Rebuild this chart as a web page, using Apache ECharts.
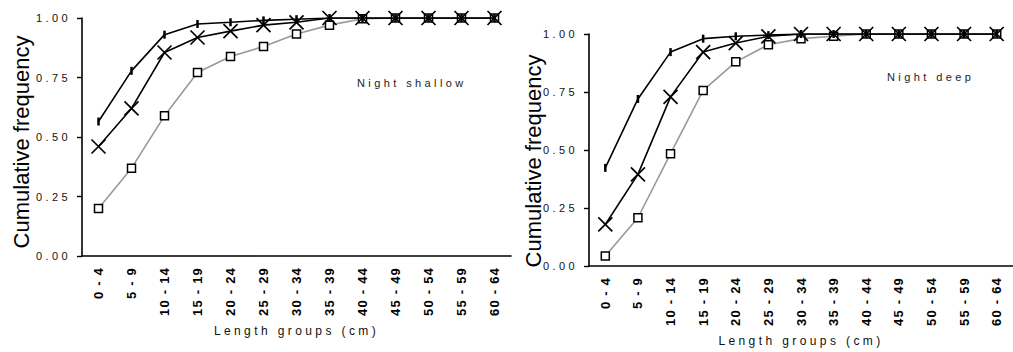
<!DOCTYPE html>
<html>
<head>
<meta charset="utf-8">
<script src="https://cdn.jsdelivr.net/npm/echarts@6/dist/echarts.min.js"></script>
<style>
  html, body { margin: 0; padding: 0; background: #fff; }
  #chart { width: 1013px; height: 352px; }
  /* the original figure uses widely spaced lettering */
  #chart text { letter-spacing: 3.4px; }
  #chart text[style*="bold"] { letter-spacing: 1.2px; }
  #chart text[style*="22px"] { letter-spacing: 0; }
</style>
</head>
<body>
<div id="chart"></div>
<script>
const categories = ["0 - 4", "5 - 9", "10 - 14", "15 - 19", "20 - 24", "25 - 29", "30 - 34",
  "35 - 39", "40 - 44", "45 - 49", "50 - 54", "55 - 59", "60 - 64"];

// Night shallow
const shallowTick = [0.565, 0.778, 0.93, 0.975, 0.982, 0.99, 0.995, 1, 1, 1, 1, 1, 1];
const shallowCross = [0.46, 0.62, 0.855, 0.918, 0.945, 0.97, 0.982, 1, 1, 1, 1, 1, 1];
const shallowSquare = [0.2, 0.369, 0.589, 0.771, 0.838, 0.88, 0.933, 0.97, 0.997, 1, 1, 1, 1];

// Night deep
const deepTick = [0.423, 0.72, 0.922, 0.98, 0.99, 0.995, 1, 1, 1, 1, 1, 1, 1];
const deepCross = [0.179, 0.395, 0.729, 0.922, 0.961, 0.99, 1, 1, 1, 1, 1, 1, 1];
const deepSquare = [0.043, 0.208, 0.484, 0.757, 0.88, 0.954, 0.98, 0.99, 1, 1, 1, 1, 1];

const yTicks = { min: 0, max: 1, interval: 0.25 };

const FONT = "'Liberation Sans', Arial, sans-serif";
const crossPath = "path://M0,0L10,10M10,0L0,10";

const makeX = (gridIndex) => ({
  type: "category",
  gridIndex,
  data: categories,
  name: "Length groups (cm)",
  nameLocation: "middle",
  nameGap: 69,
  nameMoveOverlap: false,
  nameTextStyle: { fontFamily: FONT, fontSize: 12, color: "#111", verticalAlign: "top" },
  axisLine: { lineStyle: { color: "#000", width: 1.6 } },
  axisTick: { length: 5, lineStyle: { color: "#000", width: 1.4 } },
  axisLabel: {
    interval: 0,
    rotate: 90,
    margin: 11,
    fontFamily: FONT,
    fontSize: 13,
    fontWeight: "bold",
    color: "#000",
  },
  splitLine: { show: false },
});

const makeY = (gridIndex) => ({
  type: "value",
  gridIndex,
  min: yTicks.min,
  max: yTicks.max,
  interval: yTicks.interval,
  axisLine: { show: true, lineStyle: { color: "#000", width: 1.6 } },
  axisTick: { show: true, length: 5, lineStyle: { color: "#000", width: 1.4 } },
  axisLabel: {
    margin: 11,
    fontFamily: FONT,
    fontSize: 11,
    color: "#111",
    formatter: (v) => v.toFixed(2),
  },
  splitLine: { show: false },
});

const makeSeries = (idx, tick, cross, square) => [
  {
    type: "line",
    xAxisIndex: idx,
    yAxisIndex: idx,
    data: square,
    symbol: "rect",
    symbolSize: 8,
    showAllSymbol: true,
    lineStyle: { color: "#999", width: 1.6 },
    itemStyle: { color: "#fff", borderColor: "#000", borderWidth: 1.5 },
    z: 2,
  },
  {
    type: "line",
    xAxisIndex: idx,
    yAxisIndex: idx,
    data: cross,
    symbol: crossPath,
    symbolSize: 14,
    showAllSymbol: true,
    lineStyle: { color: "#000", width: 1.6 },
    itemStyle: { color: "none", borderColor: "#000", borderWidth: 1.7 },
    z: 3,
  },
  {
    type: "line",
    xAxisIndex: idx,
    yAxisIndex: idx,
    data: tick,
    symbol: "rect",
    symbolSize: [2.5, 8],
    showAllSymbol: true,
    lineStyle: { color: "#000", width: 1.6 },
    itemStyle: { color: "#000" },
    z: 4,
  },
];

const chart = echarts.init(document.getElementById("chart"), null, { renderer: "svg" });

chart.setOption({
  animation: false,
  backgroundColor: "#fff",
  grid: [
    { left: 82, top: 18, width: 429, bottom: 96 },
    { left: 589, top: 34, width: 434, bottom: 85 },
  ],
  xAxis: [makeX(0), makeX(1)],
  yAxis: [makeY(0), makeY(1)],
  series: [
    ...makeSeries(0, shallowTick, shallowCross, shallowSquare),
    ...makeSeries(1, deepTick, deepCross, deepSquare),
  ],
  graphic: [
    {
      type: "text", x: 21, y: 142, rotation: Math.PI / 2,
      style: { text: "Cumulative frequency", font: "22px " + FONT, fill: "#000",
        align: "center", verticalAlign: "middle" },
    },
    {
      type: "text", x: 533, y: 161, rotation: Math.PI / 2,
      style: { text: "Cumulative frequency", font: "22px " + FONT, fill: "#000",
        align: "center", verticalAlign: "middle" },
    },
    {
      type: "text", x: 357, y: 83,
      style: { text: "Night shallow", font: "11px " + FONT, fill: "#222", verticalAlign: "middle" },
    },
    {
      type: "text", x: 887, y: 77,
      style: { text: "Night deep", font: "11px " + FONT, fill: "#222", verticalAlign: "middle" },
    },
  ],
});
</script>
</body>
</html>
